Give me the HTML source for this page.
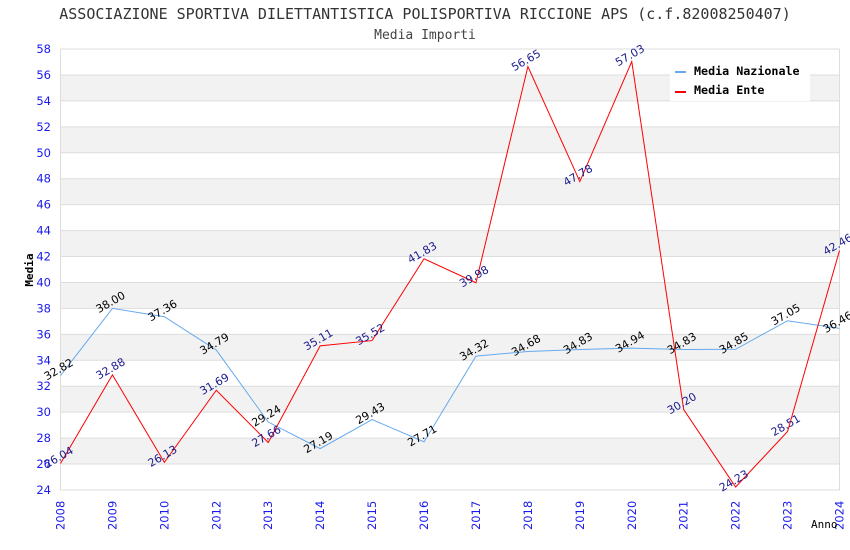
<!DOCTYPE html>
<html><head><meta charset="utf-8"><style>
body{margin:0;background:#fff;}
svg{display:block;}
</style></head><body>
<svg id="c" width="850" height="550" xmlns="http://www.w3.org/2000/svg">
<text x="425" y="19" text-anchor="middle" font-family="DejaVu Sans Mono, monospace" font-size="15" fill="#333">ASSOCIAZIONE SPORTIVA DILETTANTISTICA POLISPORTIVA RICCIONE APS (c.f.82008250407)</text>
<text x="425" y="39" text-anchor="middle" font-family="DejaVu Sans Mono, monospace" font-size="13" fill="#444">Media Importi</text>
<g id="grid"></g>
<g id="axes"></g>
<g id="series"></g>
<g>
<rect x="670" y="57" width="140" height="44" fill="#fff"/>
<rect x="675" y="71" width="11" height="2" fill="#66aaee"/>
<text x="694" y="75" font-family="DejaVu Sans Mono, monospace" font-size="11.7" font-weight="bold" fill="#000">Media Nazionale</text>
<rect x="675" y="91" width="11" height="2" fill="#ff0000"/>
<text x="694" y="94" font-family="DejaVu Sans Mono, monospace" font-size="11.7" font-weight="bold" fill="#000">Media Ente</text>
</g>
<text x="33" y="270" transform="rotate(-90 33 270)" text-anchor="middle" font-family="DejaVu Sans Mono, monospace" font-size="11" font-weight="bold" fill="#000">Media</text>
<text x="811" y="528" font-family="DejaVu Sans Mono, monospace" font-size="11" fill="#000">Anno</text>
</svg>
<script>
const categories=["2008","2009","2010","2012","2013","2014","2015","2016","2017","2018","2019","2020","2021","2022","2023","2024"];
const nazionale=[32.82,38.00,37.36,34.79,29.24,27.19,29.43,27.71,34.32,34.68,34.83,34.94,34.83,34.85,37.05,36.46];
const ente=[26.04,32.88,26.13,31.69,27.66,35.11,35.52,41.83,39.98,56.65,47.78,57.03,30.20,24.23,28.51,42.46];
const yTicks=[24,26,28,30,32,34,36,38,40,42,44,46,48,50,52,54,56,58];
const NS="http://www.w3.org/2000/svg";
const L=60.5,R=839.5,T=49,B=490,yMin=24,yMax=58;
const xs=i=>L+i*(R-L)/(categories.length-1);
const ys=v=>B-(v-yMin)*(B-T)/(yMax-yMin);
function mk(tag,attrs,parent){const e=document.createElementNS(NS,tag);for(const k in attrs)e.setAttribute(k,attrs[k]);parent.appendChild(e);return e;}
const grid=document.getElementById('grid'),axes=document.getElementById('axes'),ser=document.getElementById('series');
for(let i=0;i<yTicks.length-1;i++){
  const v=yTicks[i];
  if(v%4===2){const r=mk('rect',{x:L,y:ys(v+2),width:R-L,height:ys(v)-ys(v+2),fill:'#f2f2f2'},grid);
  
  }
}
yTicks.forEach(v=>{
  const ln=mk('line',{x1:L,x2:R,y1:ys(v),y2:ys(v),stroke:'#ddd','stroke-width':1},grid);
  
  
  const t=mk('text',{x:51,y:ys(v)+4,'text-anchor':'end','font-family':'DejaVu Sans, sans-serif','font-size':11.5,fill:'#1a1aee'},axes);
  t.textContent=v;
  
  
});
const ax=mk('path',{d:`M${L},${T}V${B}H${R}V${T}`,fill:'none',stroke:'#ddd'},axes);


categories.forEach((c,i)=>{
  const x=xs(i);
  const t=mk('text',{x:x+4,y:530,transform:`rotate(-90 ${x+4} 530)`,'font-family':'DejaVu Sans, sans-serif','font-size':11.5,fill:'#1a1aee'},axes);
  t.textContent=c;
  
  
});
function series(data,color,labelColor,name){
  const p=mk('polyline',{points:data.map((v,i)=>xs(i)+','+ys(v)).join(' '),fill:'none',stroke:color,'stroke-width':1},ser);
  
  
  data.forEach((v,i)=>{
    const x=xs(i),y=ys(v);
    const t=mk('text',{x:x,y:y-3,'text-anchor':'middle',transform:`rotate(-30 ${x} ${y-3})`,'font-family':'DejaVu Sans, sans-serif','font-size':11,fill:labelColor},ser);
    t.textContent=v.toFixed(2);
    
    
  });
}
series(nazionale,'#66aaee','#000','nazionale');
series(ente,'#ff0000','#1a1a8c','ente');
</script>
</body></html>
